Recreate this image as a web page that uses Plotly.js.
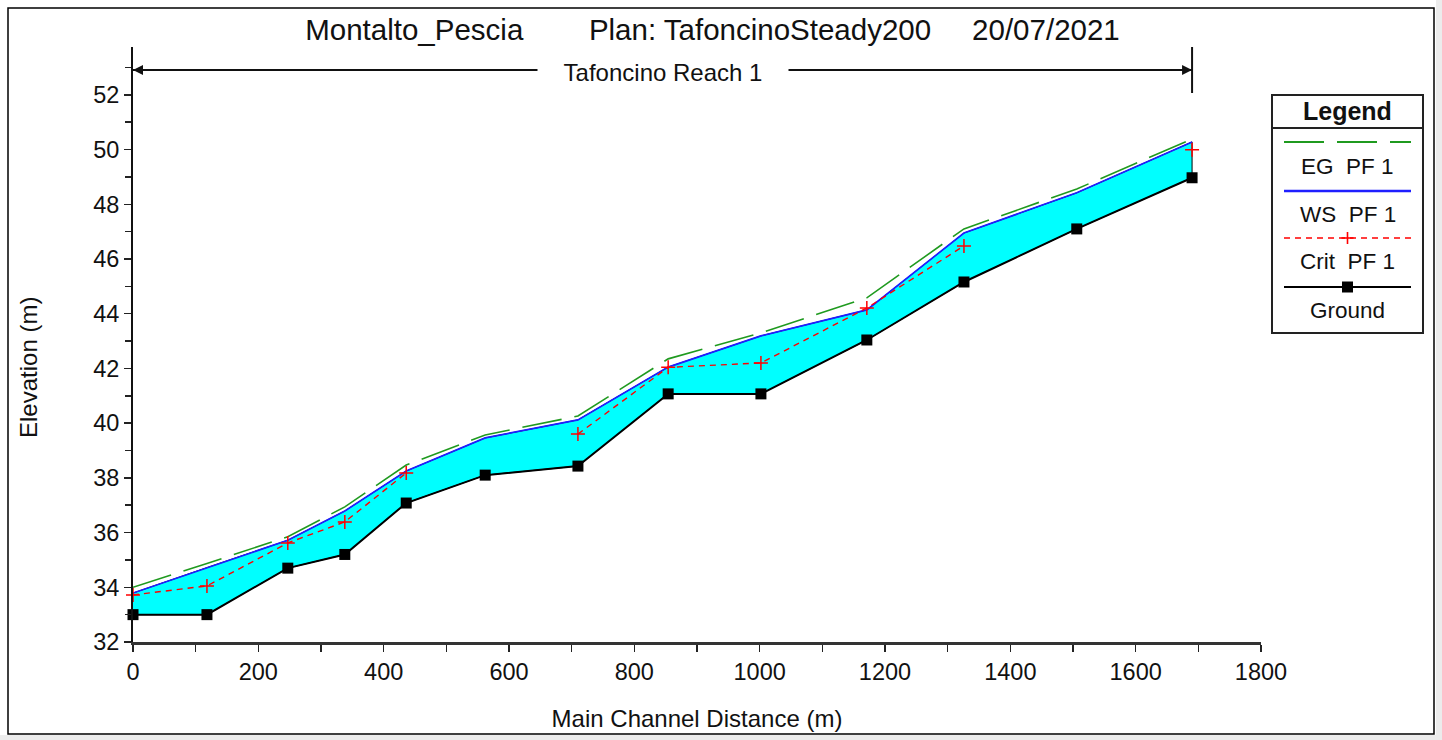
<!DOCTYPE html>
<html>
<head>
<meta charset="utf-8">
<script src="https://cdn.plot.ly/plotly-3.0.1.min.js"></script>
<style>html,body{margin:0;padding:0;background:#fff;}#chart{width:1442px;height:740px;}</style>
</head>
<body>
<div id="chart"></div>
<script>
// ---- data ----
const dist   = [0, 118, 247, 338, 436, 562, 710, 854, 1002, 1171, 1326, 1506, 1690];
const ground = [33.0, 33.0, 34.7, 35.2, 37.08, 38.1, 38.43, 41.07, 41.07, 43.04, 45.16, 47.1, 48.97];
const ws     = [33.79, 34.72, 35.72, 36.79, 38.25, 39.46, 40.12, 42.05, 43.19, 44.14, 46.95, 48.42, 50.28];
const eg     = [34.0, 34.87, 35.85, 36.94, 38.47, 39.57, 40.26, 42.35, 43.3, 44.58, 47.1, 48.56, 50.39];
const crit   = [33.72, 34.05, 35.62, 36.39, 38.18, null, 39.6, 42.04, 42.2, 44.21, 46.48, null, 49.99];

const titleText = 'Montalto_Pescia\u00a0\u00a0\u00a0\u00a0\u00a0\u00a0\u00a0\u00a0Plan: TafoncinoSteady200\u00a0\u00a0\u00a0\u00a0\u00a020/07/2021';
const reachName = 'Tafoncino Reach 1';
const legendNames = ['EG  PF 1', 'WS  PF 1', 'Crit  PF 1', 'Ground'];
const xTitle = 'Main Channel Distance (m)';
const yTitle = 'Elevation (m)';

// ---- layout helpers (pixel -> paper) ----
const W = 1442, H = 740;
const L = 133, R = 1261, T = 47, B = 642;
function px(x){ return (x - L) / (R - L); }
function py(y){ return (B - y) / (B - T); }

const FONT = 'Liberation Sans, Arial, sans-serif';
const C_EG = '#1f9a1f', C_WS = '#1f1fff', C_CR = '#ff0000', C_GR = '#000000', C_FILL = '#00ffff';

const last = dist.length - 1;

const traces = [
  { // water area between ground and water surface
    x: dist.concat(dist.slice().reverse()),
    y: ground.concat(ws.slice().reverse()),
    mode: 'lines', fill: 'toself', fillcolor: C_FILL,
    line: { color: '#000', width: 1 }, hoverinfo: 'skip', showlegend: false
  },
  { x: dist, y: ws, mode: 'lines', name: legendNames[1],
    line: { color: C_WS, width: 1.7 }, showlegend: false },
  { x: dist, y: eg, mode: 'lines', name: legendNames[0],
    line: { color: C_EG, width: 1.6, dash: '40px,13px' }, showlegend: false },
  { x: dist, y: crit, mode: 'lines+markers', name: legendNames[2], connectgaps: false,
    line: { color: C_CR, width: 1.4, dash: '6px,5px' },
    marker: { symbol: 'cross-thin', size: 10, line: { color: C_CR, width: 1.5 } },
    cliponaxis: false, showlegend: false },
  { x: dist, y: ground, mode: 'lines+markers', name: legendNames[3],
    line: { color: C_GR, width: 2 },
    marker: { symbol: 'square', size: 11, color: C_GR },
    cliponaxis: false, showlegend: false }
];

// ---- shapes & annotations ----
const shapes = [];
const annotations = [];

// outer frame
shapes.push({ type: 'rect', xref: 'paper', yref: 'paper', x0: px(1436), x1: px(1442), y0: py(0), y1: py(740),
  line: { width: 0 }, fillcolor: '#ececec', layer: 'below' });
shapes.push({ type: 'rect', xref: 'paper', yref: 'paper', x0: px(0), x1: px(1442), y0: py(735), y1: py(740),
  line: { width: 0 }, fillcolor: '#ececec', layer: 'below' });
shapes.push({ type: 'rect', xref: 'paper', yref: 'paper', x0: px(8), x1: px(1434), y0: py(8), y1: py(734),
  line: { color: '#000', width: 1.5 }, fillcolor: 'rgba(0,0,0,0)' });

// reach marker
const yReach = py(70);
shapes.push({ type: 'line', xref: 'x', yref: 'paper', x0: dist[0], x1: dist[last], y0: yReach, y1: yReach,
  line: { color: '#111', width: 2 } });
shapes.push({ type: 'line', xref: 'x', yref: 'paper', x0: dist[last], x1: dist[last], y0: py(93), y1: py(47),
  line: { color: '#111', width: 2 } });
annotations.push({ x: dist[0], y: yReach, xref: 'x', yref: 'paper', text: '', showarrow: true,
  ax: 22, ay: 0, arrowhead: 2, arrowsize: 1, arrowwidth: 2, arrowcolor: '#111', standoff: 0 });
annotations.push({ x: dist[last], y: yReach, xref: 'x', yref: 'paper', text: '', showarrow: true,
  ax: -22, ay: 0, arrowhead: 2, arrowsize: 1, arrowwidth: 2, arrowcolor: '#111', standoff: 0 });
annotations.push({ x: (dist[0] + dist[last]) / 2, y: py(73), xref: 'x', yref: 'paper', text: reachName,
  showarrow: false, bgcolor: '#fff', width: 250, borderpad: 0,
  font: { family: FONT, size: 24, color: '#111' }, xanchor: 'center', yanchor: 'middle' });

// y-axis title positioned as in the reference
annotations.push({ x: px(28), y: py(368), xref: 'paper', yref: 'paper', text: yTitle, textangle: -90,
  showarrow: false, font: { family: FONT, size: 24, color: '#111' }, xanchor: 'center', yanchor: 'middle' });

// legend box
const LX0 = 1272, LX1 = 1423, LY0 = 95, LY1 = 333;
const LXC = (LX0 + LX1) / 2, SX0 = 1284, SX1 = 1411;
shapes.push({ type: 'rect', xref: 'paper', yref: 'paper', x0: px(LX0), x1: px(LX1), y0: py(LY0), y1: py(LY1),
  line: { color: '#222', width: 2 }, fillcolor: '#fff' });
shapes.push({ type: 'line', xref: 'paper', yref: 'paper', x0: px(LX0), x1: px(LX1), y0: py(128), y1: py(128),
  line: { color: '#222', width: 2 } });
annotations.push({ x: px(LXC), y: py(111), xref: 'paper', yref: 'paper', text: '<b>Legend</b>', showarrow: false,
  font: { family: FONT, size: 25, color: '#111' }, xanchor: 'center', yanchor: 'middle' });

const sampleY = [142, 191, 238, 287];
const textY = [167, 214, 261, 310];
const sampleStyle = [
  { color: C_EG, width: 2, dash: '40px,13px' },
  { color: C_WS, width: 2.5 },
  { color: C_CR, width: 1.6, dash: '6px,5px' },
  { color: C_GR, width: 2 }
];
for (let i = 0; i < 4; i++) {
  shapes.push({ type: 'line', xref: 'paper', yref: 'paper', x0: px(SX0), x1: px(SX1), y0: py(sampleY[i]), y1: py(sampleY[i]),
    line: sampleStyle[i] });
  annotations.push({ x: px(LXC), y: py(textY[i]), xref: 'paper', yref: 'paper', text: legendNames[i].replace(/  /g, '\u00a0\u00a0'),
    showarrow: false, font: { family: FONT, size: 22.5, color: '#111' }, xanchor: 'center', yanchor: 'middle' });
}
// crit "+" symbol in legend
shapes.push({ type: 'line', xref: 'paper', yref: 'paper', x0: px(LXC - 6), x1: px(LXC + 6), y0: py(238), y1: py(238),
  line: { color: C_CR, width: 1.6 } });
shapes.push({ type: 'line', xref: 'paper', yref: 'paper', x0: px(LXC), x1: px(LXC), y0: py(232), y1: py(244),
  line: { color: C_CR, width: 1.6 } });
// ground square in legend
shapes.push({ type: 'rect', xref: 'paper', yref: 'paper', x0: px(LXC - 5.5), x1: px(LXC + 5.5), y0: py(281.5), y1: py(292.5),
  line: { width: 0 }, fillcolor: C_GR });

const layout = {
  width: W, height: H,
  margin: { l: L, r: W - R, t: T, b: H - B, pad: 0 },
  paper_bgcolor: '#fff', plot_bgcolor: 'rgba(0,0,0,0)',
  showlegend: false,
  font: { family: FONT, color: '#111' },
  title: { text: titleText, font: { family: FONT, size: 29.5, color: '#111' },
    x: px(712.5), xref: 'paper', xanchor: 'center', y: 1 - 30 / H, yref: 'container', yanchor: 'middle' },
  xaxis: {
    range: [0, 1800], dtick: 200, tick0: 0, autorange: false,
    showgrid: false, zeroline: false, showline: true, linecolor: '#333', linewidth: 3,
    ticks: 'outside', ticklen: 7, tickwidth: 1.5, tickcolor: '#222',
    minor: { dtick: 100, ticks: 'outside', ticklen: 7, tickwidth: 1.5, tickcolor: '#222', showgrid: false },
    tickfont: { family: FONT, size: 23.5, color: '#111' },
    title: { text: xTitle, font: { family: FONT, size: 24, color: '#111' }, standoff: 26 }
  },
  yaxis: {
    range: [32, 53.75], dtick: 2, tick0: 32, autorange: false,
    showgrid: false, zeroline: false, showline: true, linecolor: '#111', linewidth: 2,
    ticks: 'outside', ticklen: 7, tickwidth: 1.5, tickcolor: '#222',
    minor: { dtick: 1, ticks: 'outside', ticklen: 6, tickwidth: 1.5, tickcolor: '#222', showgrid: false },
    tickfont: { family: FONT, size: 23.5, color: '#111' }
  },
  shapes: shapes,
  annotations: annotations
};

Plotly.newPlot('chart', traces, layout, { displayModeBar: false, staticPlot: true });
</script>
</body>
</html>
